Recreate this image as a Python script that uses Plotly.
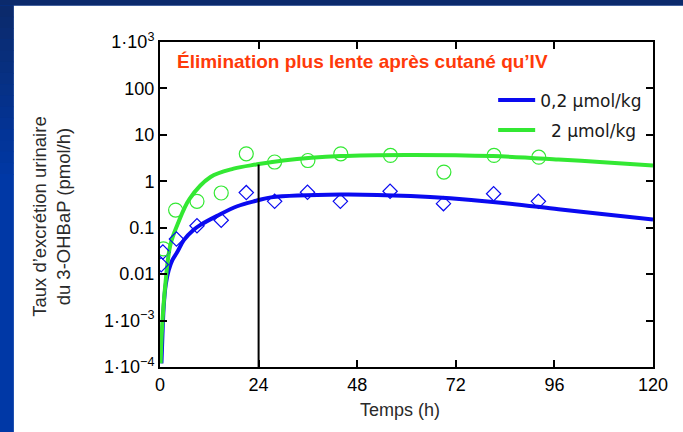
import plotly.graph_objects as go

# Fitted excretion-rate curves (time in h, rate in pmol/h)
low_dose_curve_t = [0.35, 0.6, 0.9, 1.4, 2.1, 3.0, 4.2, 5.8, 8.2, 9.85, 13.9, 18.8, 23.4, 27, 44, 61, 81, 97, 107, 120]
low_dose_curve_v = [1.2e-4, 5e-4, 2e-3, 6e-3, 0.012, 0.02, 0.03, 0.054, 0.09, 0.115, 0.18, 0.29, 0.38, 0.45, 0.52, 0.48, 0.36, 0.25, 0.2, 0.15]

high_dose_curve_t = [0.15, 0.5, 1.3, 2.5, 4.3, 7.2, 12.3, 17.9, 23.4, 30, 44, 60, 81, 97, 107, 120]
high_dose_curve_v = [1.2e-4, 7e-4, 6e-3, 0.042, 0.12, 0.42, 1.24, 1.87, 2.3, 2.8, 3.5, 3.7, 3.5, 2.95, 2.6, 2.2]

# Measured excretion rates
low_dose_obs_t = [0.3, 0.7, 4.0, 9.0, 14.9, 21.0, 27.9, 35.9, 43.9, 56.0, 69.0, 81.2, 92.1]
low_dose_obs_v = [0.016, 0.03, 0.057, 0.11, 0.145, 0.57, 0.37, 0.58, 0.37, 0.61, 0.33, 0.54, 0.37]

high_dose_obs_t = [0.85, 3.8, 9.0, 14.9, 21.0, 27.9, 36.0, 44.0, 56.1, 69.1, 81.3, 92.2]
high_dose_obs_v = [0.035, 0.24, 0.37, 0.56, 3.9, 2.6, 2.8, 3.9, 3.6, 1.58, 3.6, 3.3]

# 24 h reference line, up to the high-dose curve
ref_t = [24, 24]
ref_v = [1e-4, 2.3]

x_ticks = [0, 24, 48, 72, 96, 120]
y_ticks = [1e-4, 1e-3, 0.01, 0.1, 1, 10, 100, 1000]
y_tick_text = ["1·10<sup>−4</sup>", "1·10<sup>−3</sup>", "0.01", "0.1", "1", "10", "100", "1·10<sup>3</sup>"]

BLUE = "#0a0af0"
GREEN = "#33e833"
FONT = "Liberation Sans, Arial, sans-serif"

W, H = 683, 432
L, R, T, B = 159.5, 30, 41.5, 65
PW, PH = W - L - R, H - T - B


def px_x(x):
    return (x - L) / PW


def px_y(y):
    return (H - B - y) / PH


fig = go.Figure()

fig.add_trace(go.Scatter(x=low_dose_curve_t, y=low_dose_curve_v, mode="lines",
                         line=dict(color=BLUE, width=4, shape="spline", smoothing=1),
                         name="0,2 µmol/kg", legendgroup="a"))
fig.add_trace(go.Scatter(x=high_dose_curve_t, y=high_dose_curve_v, mode="lines",
                         line=dict(color=GREEN, width=4, shape="spline", smoothing=1),
                         name="\u00a0\u00a02 µmol/kg", legendgroup="b"))
fig.add_trace(go.Scatter(x=ref_t, y=ref_v, mode="lines",
                         line=dict(color="black", width=2), showlegend=False))
fig.add_trace(go.Scatter(x=low_dose_obs_t, y=low_dose_obs_v, mode="markers",
                         marker=dict(symbol="diamond-open", size=11, color=BLUE, line=dict(width=1.2)),
                         showlegend=False))
fig.add_trace(go.Scatter(x=high_dose_obs_t, y=high_dose_obs_v, mode="markers",
                         marker=dict(symbol="circle-open", size=14, color=GREEN, line=dict(width=1.2)),
                         showlegend=False))

shapes = []
# white slide panel
shapes.append(dict(type="rect", xref="paper", yref="paper", layer="below",
                   x0=px_x(13), x1=px_x(W + 5), y0=px_y(H + 5), y1=px_y(5),
                   fillcolor="white", line=dict(width=0)))
# darker band at the top and fading band down the left edge
shapes.append(dict(type="rect", xref="paper", yref="paper", layer="below",
                   x0=px_x(-5), x1=px_x(W + 5), y0=px_y(5), y1=px_y(-5),
                   fillcolor="#0b2a6c", line=dict(width=0)))
steps = 16
c0, c1 = (11, 42, 108), (0, 56, 166)
for i in range(steps):
    f = i / (steps - 1)
    col = "rgb(%d,%d,%d)" % tuple(round(a + (b - a) * f) for a, b in zip(c0, c1))
    y_top = 5 + i * 180 / steps
    y_bot = H + 5 if i == steps - 1 else 5 + (i + 1) * 180 / steps + 0.5
    shapes.append(dict(type="rect", xref="paper", yref="paper", layer="below",
                       x0=px_x(-5), x1=px_x(13), y0=px_y(y_bot), y1=px_y(y_top),
                       fillcolor=col, line=dict(width=0)))

axis_common = dict(showline=True, linecolor="black", linewidth=2, mirror="ticks",
                   ticks="inside", ticklen=7, tickwidth=1.5, tickcolor="black",
                   showgrid=False, zeroline=False,
                   tickfont=dict(family=FONT, size=18, color="black"))

fig.update_layout(
    width=W, height=H,
    margin=dict(l=L, r=R, t=T, b=B),
    paper_bgcolor="#0038a4",
    plot_bgcolor="white",
    shapes=shapes,
    xaxis=dict(range=[0, 120], tickvals=x_ticks, **axis_common),
    yaxis=dict(type="log", range=[-4, 3], tickvals=y_ticks, ticktext=y_tick_text, **axis_common),
    legend=dict(x=px_x(493), y=px_y(82), xanchor="left", yanchor="top",
                bgcolor="rgba(0,0,0,0)", tracegroupgap=5, itemwidth=37,
                font=dict(family="DejaVu Sans", size=17, color="#1a1a1a")),
    annotations=[
        dict(text="<b>Élimination plus lente après cutané qu’IV</b>", xref="paper", yref="paper",
             x=px_x(175), y=px_y(61), xanchor="left", yanchor="middle", showarrow=False,
             font=dict(family=FONT, size=19, color="#ff3a0a")),
        dict(text="Taux d’excrétion urinaire<br>du 3-OHBaP (pmol/h)", xref="paper", yref="paper",
             x=px_x(51), y=px_y(216), xanchor="center", yanchor="middle", showarrow=False,
             textangle=-90, font=dict(family=FONT, size=18.5, color="#2a2a2a")),
        dict(text="Temps (h)", xref="paper", yref="paper",
             x=px_x(400), y=px_y(410), xanchor="center", yanchor="middle", showarrow=False,
             font=dict(family=FONT, size=18, color="#2a2a2a")),
    ],
)

fig.write_html("out.html")
